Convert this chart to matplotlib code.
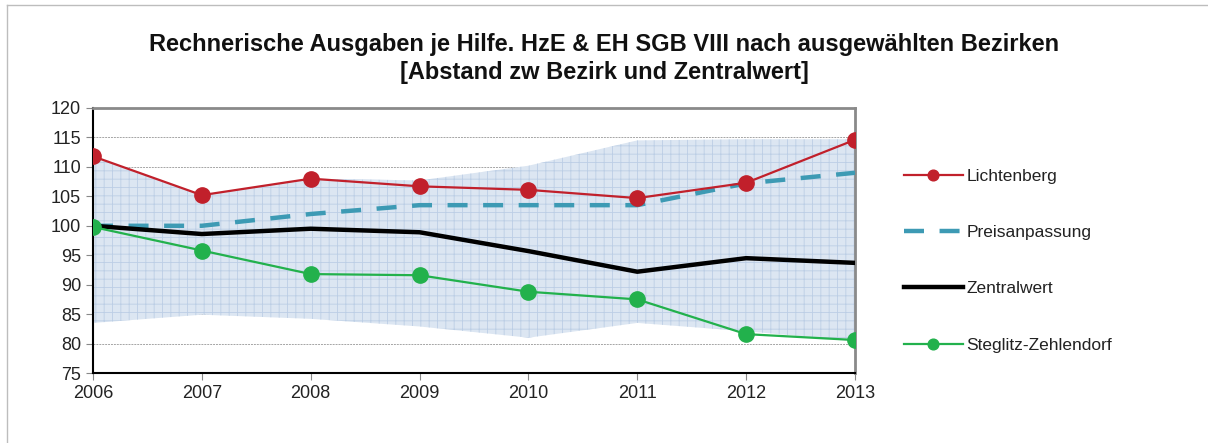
import matplotlib.pyplot as plt

# Daten
jahre = [2006, 2007, 2008, 2009, 2010, 2011, 2012, 2013]
lichtenberg = [111.8, 105.2, 108.0, 106.7, 106.1, 104.7, 107.3, 114.6]
preisanpassung = [100.0, 100.0, 102.0, 103.5, 103.5, 103.5, 107.2, 109.0]
zentralwert = [100.0, 98.6, 99.5, 98.9, 95.7, 92.2, 94.5, 93.7]
steglitz = [99.8, 95.8, 91.8, 91.6, 88.8, 87.5, 81.6, 80.6]
# Spannweite aller Bezirke (Band)
band_oben = [111.8, 105.2, 108.0, 107.7, 110.2, 114.5, 114.7, 114.7]
band_unten = [83.5, 84.9, 84.2, 82.9, 81.0, 83.5, 82.1, 80.4]

plt.rcParams['font.family'] = ['Liberation Sans', 'DejaVu Sans']
plt.rcParams['hatch.color'] = '#bccee5'
plt.rcParams['hatch.linewidth'] = 0.6

fig = plt.figure(figsize=(12.08, 4.43), dpi=100)
ax = fig.add_axes([93 / 1208, 1 - 373 / 443, (855 - 93) / 1208, (373 - 108) / 443])

# Rahmen um die Grafik (nur oben/links sichtbar)
fig.add_artist(plt.Line2D([7 / 1208, 7 / 1208], [0, 1 - 5 / 443], transform=fig.transFigure,
                          color='#bdbdbd', lw=1))
fig.add_artist(plt.Line2D([7 / 1208, 1], [1 - 5 / 443, 1 - 5 / 443], transform=fig.transFigure,
                          color='#bdbdbd', lw=1))

# Band mit Gittermuster
ax.fill_between(jahre, band_unten, band_oben, facecolor='#dce6f2', edgecolor='none',
                hatch='++', linewidth=0, zorder=1)

ax.plot(jahre, lichtenberg, color='#c1202b', lw=1.6, marker='o', markersize=11,
        label='Lichtenberg', zorder=4)
ax.plot(jahre, preisanpassung, color='#3d9ab4', lw=3.2, linestyle=(0, (4.5, 3.5)),
        label='Preisanpassung', zorder=3)
ax.plot(jahre, zentralwert, color='black', lw=3.2, label='Zentralwert', zorder=3)
ax.plot(jahre, steglitz, color='#22b14c', lw=1.6, marker='o', markersize=11,
        label='Steglitz-Zehlendorf', zorder=4)

ax.set_xlim(2006, 2013)
ax.set_ylim(75, 120)
ax.set_xticks(jahre)
ax.set_yticks(range(75, 121, 5))
ax.tick_params(axis='both', labelsize=13, colors='#222222', length=5, width=0.8)
ax.tick_params(axis='both', color='#888888')
ax.yaxis.grid(True, color='#a5a5a5', linestyle=(0, (2, 1)), lw=0.7, zorder=0)
ax.set_axisbelow(True)

for s in ['left', 'bottom']:
    ax.spines[s].set_color('black')
    ax.spines[s].set_linewidth(1.5)
for s in ['top', 'right']:
    ax.spines[s].set_color('#8a8a8a')
    ax.spines[s].set_linewidth(2)

fig.text(0.5, 1 - 44 / 443, 'Rechnerische Ausgaben je Hilfe. HzE & EH SGB VIII nach ausgewählten Bezirken',
         ha='center', va='center', fontsize=17, fontweight='bold', color='#111111')
fig.text(0.5, 1 - 72 / 443, '[Abstand zw Bezirk und Zentralwert]',
         ha='center', va='center', fontsize=17, fontweight='bold', color='#111111')

fig.legend(loc='upper left', bbox_to_anchor=(888 / 1208, 1 - 153 / 443), frameon=False,
           fontsize=12.5, handlelength=3.4, labelspacing=2.37, handletextpad=0.2,
           markerscale=0.7, labelcolor='#222222')

plt.savefig('out.png', dpi=100)
